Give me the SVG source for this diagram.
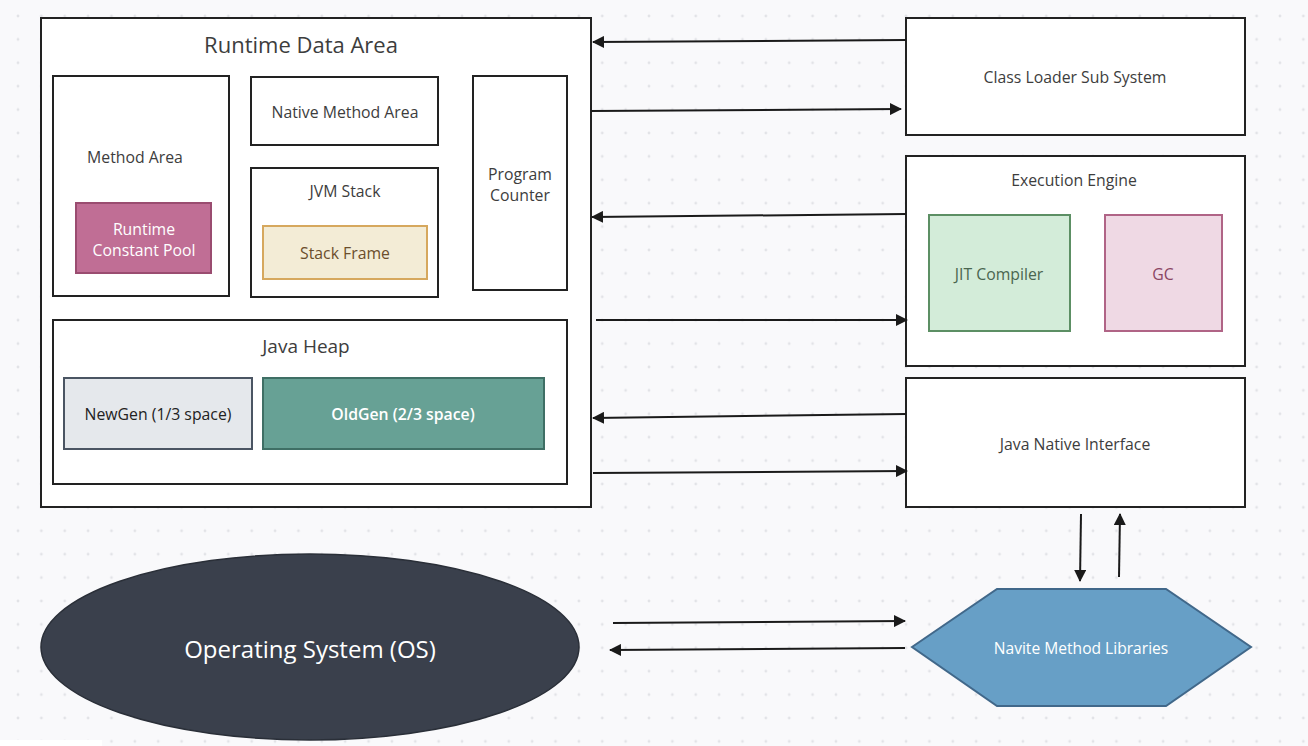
<svg xmlns="http://www.w3.org/2000/svg" width="1308" height="746" viewBox="0 0 1308 746">
<defs>
<pattern id="dots" x="18" y="16" width="23.37" height="23.4" patternUnits="userSpaceOnUse">
<circle cx="0" cy="0" r="1.4" fill="#e2e3e7"/>
<circle cx="23.37" cy="0" r="1.4" fill="#e2e3e7"/>
<circle cx="0" cy="23.4" r="1.4" fill="#e2e3e7"/>
<circle cx="23.37" cy="23.4" r="1.4" fill="#e2e3e7"/>
</pattern>
<marker id="ah" viewBox="0 0 12 12" refX="11" refY="6" markerWidth="12" markerHeight="12" markerUnits="userSpaceOnUse" orient="auto">
<path d="M0,0 L12,6 L0,12 Z" fill="#1a1a1a"/>
</marker>
</defs>
<style>
text{font-family:"Open Sans","Noto Sans","Liberation Sans",sans-serif;text-anchor:middle;dominant-baseline:central;fill:#3d3d3d;font-size:15.8px;font-weight:500}
.box{fill:#fff;stroke:#222;stroke-width:2}
.conn line{stroke:#1a1a1a;stroke-width:2;marker-end:url(#ah)}
</style>
<rect width="1308" height="746" fill="#f9f9fb"/>
<rect width="1308" height="746" fill="url(#dots)"/>
<rect x="0" y="740" width="102" height="6" fill="#ffffff"/>

<g id="runtime-data-area">
<rect class="box" x="41" y="18" width="550" height="489"/>
<text x="301" y="44" style="font-size:22px">Runtime Data Area</text>
</g>
<g id="method-area">
<rect class="box" x="53" y="76" width="176" height="220"/>
<text x="135" y="157">Method Area</text>
</g>
<g id="runtime-constant-pool">
<rect x="76" y="203" width="135" height="70" fill="#c06e95" stroke="#9a4c70" stroke-width="2"/>
<text x="144" y="229" style="fill:#fff">Runtime</text>
<text x="144" y="250" style="fill:#fff">Constant Pool</text>
</g>
<g id="native-method-area">
<rect class="box" x="251" y="77" width="187" height="68"/>
<text x="345" y="112">Native Method Area</text>
</g>
<g id="jvm-stack">
<rect class="box" x="251" y="168" width="187" height="129"/>
<text x="345" y="191">JVM Stack</text>
</g>
<g id="stack-frame">
<rect x="263" y="226" width="164" height="53" fill="#f3ecd6" stroke="#d6a85e" stroke-width="2"/>
<text x="345" y="253" style="fill:#6b4e2c">Stack Frame</text>
</g>
<g id="program-counter">
<rect class="box" x="473" y="76" width="94" height="214"/>
<text x="520" y="174">Program</text>
<text x="520" y="195">Counter</text>
</g>
<g id="java-heap">
<rect class="box" x="53" y="320" width="514" height="164"/>
<text x="306" y="346" style="font-size:19px">Java Heap</text>
</g>
<g id="newgen">
<rect x="64" y="378" width="188" height="71" fill="#e5e8ec" stroke="#4b5563" stroke-width="2"/>
<text x="158" y="414" style="fill:#222">NewGen (1/3 space)</text>
</g>
<g id="oldgen">
<rect x="263" y="378" width="281" height="71" fill="#67a195" stroke="#3f6f65" stroke-width="2"/>
<text x="403" y="414" style="fill:#fff;font-weight:600">OldGen (2/3 space)</text>
</g>

<g id="class-loader">
<rect class="box" x="906" y="18" width="339" height="117"/>
<text x="1075" y="77">Class Loader Sub System</text>
</g>
<g id="execution-engine">
<rect class="box" x="906" y="156" width="339" height="210"/>
<text x="1074" y="180">Execution Engine</text>
</g>
<g id="jit-compiler">
<rect x="929" y="215" width="141" height="116" fill="#d3ecd9" stroke="#5c8f64" stroke-width="2"/>
<text x="999" y="274" style="fill:#4a6650">JIT Compiler</text>
</g>
<g id="gc">
<rect x="1105" y="215" width="117" height="116" fill="#efd9e4" stroke="#b06486" stroke-width="2"/>
<text x="1163" y="274" style="fill:#8a4563">GC</text>
</g>
<g id="jni">
<rect class="box" x="906" y="378" width="339" height="129"/>
<text x="1075" y="444">Java Native Interface</text>
</g>

<g id="os">
<ellipse cx="310" cy="647" rx="269" ry="93" fill="#3a404c" stroke="#2a2f38" stroke-width="1.5"/>
<text x="310" y="648" style="fill:#fff;font-size:24px;font-weight:400">Operating System (OS)</text>
</g>
<g id="native-method-libraries">
<polygon points="912,647 997,589 1166,589 1251,647 1166,706 997,706" fill="#679fc6" stroke="#41688a" stroke-width="2"/>
<text x="1081" y="648" style="fill:#fff;font-size:15.6px;font-weight:400">Navite Method Libraries</text>
</g>

<g class="conn" id="connectors">
<line x1="906" y1="40" x2="593" y2="42"/>
<line x1="591" y1="111" x2="901" y2="109"/>
<line x1="906" y1="214" x2="592" y2="217"/>
<line x1="596" y1="320" x2="907" y2="320"/>
<line x1="906" y1="414" x2="593" y2="418"/>
<line x1="593" y1="473" x2="907" y2="471"/>
<line x1="1081" y1="514" x2="1080" y2="581"/>
<line x1="1119" y1="577" x2="1120" y2="514"/>
<line x1="613" y1="623" x2="905" y2="621"/>
<line x1="905" y1="648" x2="610" y2="650"/>
</g>
</svg>
